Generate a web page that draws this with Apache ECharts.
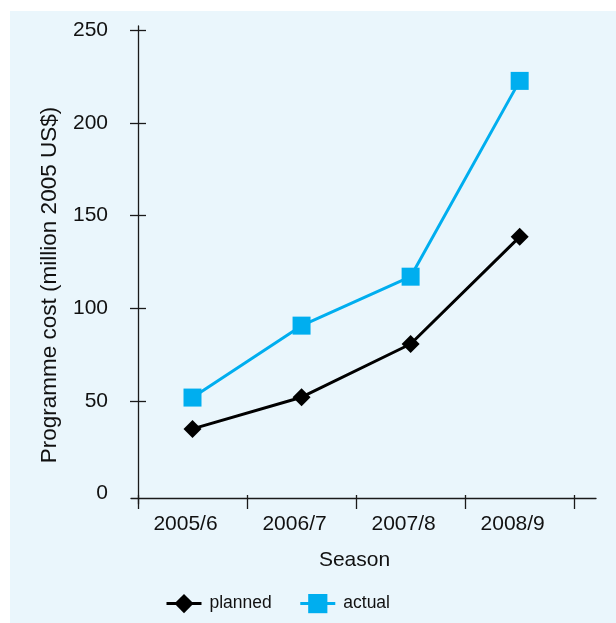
<!DOCTYPE html>
<html>
<head>
<meta charset="utf-8">
<script src="https://cdn.jsdelivr.net/npm/echarts@6/dist/echarts.min.js"></script>
<style>
html,body{margin:0;padding:0;background:#fff;}
#bg{position:absolute;left:10px;top:11px;width:606px;height:612px;background:#eaf6fc;}
#chart{position:absolute;left:0;top:0;width:616px;height:623px;}
</style>
</head>
<body>
<div id="bg"></div>
<div id="chart"></div>
<script>
var seasons = ['2005/6', '2006/7', '2007/8', '2008/9'];
var planned = [34.9, 52.0, 80.7, 138.5];
var actual = [51.8, 90.6, 117.0, 222.6];
var yLabels = [0, 50, 100, 150, 200, 250];
var yTickMarks = [50, 100, 150, 200, 250];
var xTicks = [0, 1, 2, 3, 4];

function toPoints(vals) {
  return vals.map(function (v, i) { return [i + 0.5, v]; });
}
var labelPos = seasons.map(function (s, i) { return i + 0.5; });

var font = 'Liberation Sans, Arial, sans-serif';
var txt = '#111';

var chart = echarts.init(document.getElementById('chart'), null, {renderer: 'canvas'});
chart.setOption({
  backgroundColor: 'transparent',
  animation: false,
  textStyle: {fontFamily: font},
  grid: {left: 131, right: 20, top: 26, bottom: 119, containLabel: false},
  legend: {
    left: 165, top: 594, padding: 0,
    itemWidth: 35, itemHeight: 24, itemGap: 27,
    lineStyle: {width: 3},
    textStyle: {fontSize: 17.5, color: txt, fontFamily: font, padding: [0, 0, 0, 3]},
    data: ['planned', 'actual']
  },
  xAxis: [{
    type: 'value', min: -0.064, max: 4.2,
    position: 'bottom', offset: -6,
    axisLine: {onZero: false, lineStyle: {color: '#1a1a1a', width: 1.3}},
    axisTick: {show: true, inside: false, length: 11, customValues: xTicks, lineStyle: {color: '#1a1a1a', width: 1.3}},
    axisLabel: {
      customValues: labelPos, margin: 16, fontSize: 21, color: txt, fontFamily: font,
      padding: [0, 14, 0, 0],
      formatter: function (v) { return seasons[Math.floor(v)]; }
    },
    splitLine: {show: false},
    name: 'Season', nameLocation: 'middle', nameGap: 52,
    nameTextStyle: {fontSize: 21, color: txt, fontFamily: font, padding: [0, 18, 0, 0]}
  }, {
    type: 'value', min: -0.064, max: 4.2,
    position: 'bottom', offset: -6,
    axisLine: {show: false, onZero: false},
    axisTick: {show: true, inside: true, length: 3, customValues: xTicks, lineStyle: {color: '#1a1a1a', width: 1.3}},
    axisLabel: {show: false},
    splitLine: {show: false}
  }],
  yAxis: [{
    type: 'value', min: -5.6, max: 252.2,
    position: 'left',
    axisLine: {show: true, onZero: true, lineStyle: {color: '#1a1a1a', width: 1.3}},
    axisTick: {show: true, inside: false, length: 8, customValues: yTickMarks, lineStyle: {color: '#1a1a1a', width: 1.3}},
    axisLabel: {customValues: yLabels, margin: 23, fontSize: 21, color: txt, fontFamily: font},
    splitLine: {show: false},
    name: 'Programme cost (million 2005 US$)', nameLocation: 'middle', nameGap: 70,
    nameTextStyle: {fontSize: 22.5, color: txt, fontFamily: font, padding: [0, 40, 0, 0]}
  }, {
    type: 'value', min: -5.6, max: 252.2,
    position: 'left',
    axisLine: {show: false, onZero: true},
    axisTick: {show: true, inside: true, length: 8, customValues: yTickMarks, lineStyle: {color: '#1a1a1a', width: 1.3}},
    axisLabel: {show: false},
    splitLine: {show: false}
  }],
  series: [{
    name: 'planned', type: 'line', xAxisIndex: 0, yAxisIndex: 0,
    data: toPoints(planned),
    symbol: 'diamond', symbolSize: 18,
    lineStyle: {color: '#000', width: 3},
    itemStyle: {color: '#000'},
    z: 3
  }, {
    name: 'actual', type: 'line', xAxisIndex: 0, yAxisIndex: 0,
    data: toPoints(actual),
    symbol: 'rect', symbolSize: 18,
    lineStyle: {color: '#00aeef', width: 3},
    itemStyle: {color: '#00aeef'},
    z: 2
  }]
});
</script>
</body>
</html>
